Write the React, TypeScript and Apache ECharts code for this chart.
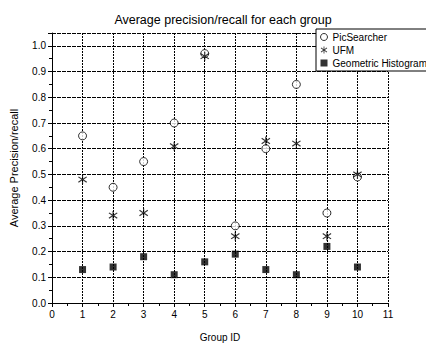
import React, { useEffect, useRef } from "react";
import * as echarts from "echarts";

const groups = [1, 2, 3, 4, 5, 6, 7, 8, 9, 10];
const picSearcher = [0.65, 0.45, 0.55, 0.7, 0.97, 0.3, 0.6, 0.85, 0.35, 0.49];
const ufm = [0.48, 0.34, 0.35, 0.61, 0.96, 0.26, 0.63, 0.62, 0.26, 0.5];
const geoHist = [0.13, 0.14, 0.18, 0.11, 0.16, 0.19, 0.13, 0.11, 0.22, 0.14];

const asterisk =
  "path://M-0.6,-5L0.6,-5L0.6,-1.1L3.9,-3.5L4.6,-2.5L1.2,0L4.6,2.5L3.9,3.5L0.6,1.1L0.6,5L-0.6,5L-0.6,1.1L-3.9,3.5L-4.6,2.5L-1.2,0L-4.6,-2.5L-3.9,-3.5L-0.6,-1.1Z";

const font = "Liberation Sans, Arial, sans-serif";

export default function App() {
  const ref = useRef<HTMLDivElement>(null);
  useEffect(() => {
    const chart = echarts.init(ref.current!, null, { renderer: "svg" });
    const pts = (arr: number[]) => groups.map((g, i) => [g, arr[i]]);
    chart.setOption({
      animation: false,
      backgroundColor: "#fff",
      title: {
        text: "Average precision/recall for each group",
        left: 218,
        textAlign: "center",
        top: 8,
        textStyle: { fontSize: 12.5, fontWeight: "normal", color: "#000", fontFamily: font },
      },
      legend: {
        orient: "vertical",
        left: 316,
        top: 29,
        padding: [3, 8, 3, 4],
        itemGap: 3,
        itemWidth: 7,
        itemHeight: 7,
        borderColor: "#000",
        borderWidth: 1,
        backgroundColor: "#fff",
        textStyle: { fontSize: 10, color: "#000", fontFamily: font, padding: [0, 0, 0, 0] },
        data: [
          { name: "PicSearcher", itemStyle: { borderWidth: 1 } },
          "UFM",
          "Geometric Histogram",
        ],
      },
      grid: { left: 49, right: 38, top: 33, bottom: 39 },
      xAxis: {
        type: "value",
        min: 0,
        max: 11,
        interval: 1,
        name: "Group ID",
        nameLocation: "middle",
        nameGap: 29,
        nameTextStyle: { fontSize: 10, color: "#000", fontFamily: font },
        axisLine: { lineStyle: { color: "#000", width: 1 } },
        axisTick: { length: 4, lineStyle: { color: "#000" } },
        minorTick: { show: true, splitNumber: 2, length: 3, lineStyle: { color: "#000" } },
        axisLabel: { fontSize: 10, color: "#000", fontFamily: font, margin: 6 },
        splitLine: {
          show: true,
          lineStyle: { color: "#000", type: [2, 1], width: 1 },
        },
      },
      yAxis: {
        type: "value",
        min: 0,
        max: 1.05,
        interval: 0.1,
        name: "Average Precision/recall",
        nameLocation: "middle",
        nameGap: 33,
        nameTextStyle: { fontSize: 11, color: "#000", fontFamily: font },
        axisLine: { show: true, lineStyle: { color: "#000", width: 1 } },
        axisTick: { show: true, length: 4, lineStyle: { color: "#000" } },
        minorTick: { show: true, splitNumber: 2, length: 3, lineStyle: { color: "#000" } },
        axisLabel: {
          fontSize: 10,
          color: "#000",
          fontFamily: font,
          margin: 6,
          formatter: (v: number) => (Math.abs(v - 1.05) < 1e-6 ? "" : v.toFixed(1)),
        },
        splitLine: {
          show: true,
          lineStyle: { color: "#000", type: [4, 1], width: 1 },
        },
      },
      series: [
        {
          name: "PicSearcher",
          type: "scatter",
          symbol: "circle",
          symbolSize: 8,
          itemStyle: { color: "#fff", borderColor: "#000", borderWidth: 1 },
          data: pts(picSearcher),
          z: 3,
        },
        {
          name: "UFM",
          type: "scatter",
          symbol: asterisk,
          symbolSize: 9,
          itemStyle: { color: "#000" },
          data: pts(ufm),
          z: 4,
        },
        {
          name: "Geometric Histogram",
          type: "scatter",
          symbol: "rect",
          symbolSize: 7,
          itemStyle: { color: "#000" },
          data: pts(geoHist),
          z: 4,
        },
      ],
    });
    return () => chart.dispose();
  }, []);
  return (
    <div
      ref={ref}
      style={{ width: 426, height: 347, position: "absolute", left: 0, top: 0 }}
    />
  );
}
